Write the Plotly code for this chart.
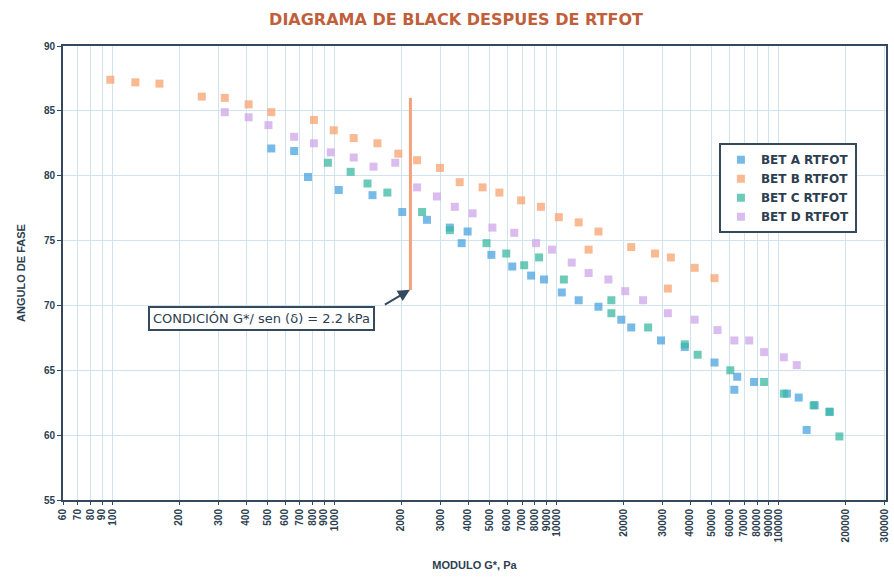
import math
import plotly.graph_objects as go

# Black diagram after RTFOT ageing: complex modulus G* (Pa) vs phase angle (deg)
g_bet_a = [520, 659, 761, 1047, 1485, 2021, 2612, 3311, 3981, 3742, 5093, 6324, 7691, 8790,
           10570, 12590, 15460, 19590, 21720, 29570, 37840, 51500, 65170, 77620, 63240,
           109100, 123300, 145500, 169800, 133900]
d_bet_a = [82.1, 81.9, 79.9, 78.9, 78.5, 77.2, 76.6, 76.0, 75.7, 74.8, 73.9, 73.0, 72.3, 72.0,
           71.0, 70.4, 69.9, 68.9, 68.3, 67.3, 66.8, 65.6, 64.5, 64.1, 63.5,
           63.2, 62.9, 62.3, 61.8, 60.4]

g_bet_b = [98, 127, 163, 253, 321, 411, 520, 809, 994, 1222, 1563, 1941, 2357, 2987, 3667,
           4648, 5534, 6937, 8517, 10250, 12590, 15460, 13960, 21720, 27790, 32740, 41900,
           51500, 31750]
d_bet_b = [87.4, 87.2, 87.1, 86.1, 86.0, 85.5, 84.9, 84.3, 83.5, 82.9, 82.5, 81.7, 81.2, 80.6,
           79.5, 79.1, 78.7, 78.1, 77.6, 76.8, 76.4, 75.7, 74.3, 74.5, 74.0, 73.7, 72.9,
           72.1, 71.3]

g_bet_c = [935, 1184, 1410, 1732, 2483, 3311, 4842, 5943, 7157, 8350, 10800, 17670, 17670,
           25870, 37840, 43250, 60670, 86090, 105700, 143900, 169800, 188000]
d_bet_c = [81.0, 80.3, 79.4, 78.7, 77.2, 75.8, 74.8, 74.0, 73.1, 73.7, 72.0, 70.4, 69.4,
           68.3, 67.0, 66.2, 65.0, 64.1, 63.2, 62.3, 61.8, 59.9]

g_bet_d = [321, 411, 505, 659, 809, 964, 1222, 1500, 1880, 2357, 2896, 3485, 4193, 5147, 6457,
           8093, 9545, 11720, 13960, 17140, 20410, 24560, 31750, 41900, 53110, 63240, 73790,
           86090, 105700, 120800]
d_bet_d = [84.9, 84.5, 83.9, 83.0, 82.5, 81.8, 81.4, 80.7, 81.0, 79.1, 78.4, 77.6, 77.1, 76.0,
           75.6, 74.8, 74.3, 73.3, 72.5, 72.0, 71.1, 70.4, 69.4, 68.9, 68.1, 67.3, 67.3,
           66.4, 66.0, 65.4]

series_names = ["BET A RTFOT", "BET B RTFOT", "BET C RTFOT", "BET D RTFOT"]
series_colors = ["#4aa3df", "#f7a26e", "#3bb8a2", "#cda6ea"]

# G*/sin(delta) = 2.2 kPa criterion line
criterion_g = [2200, 2200]
criterion_d = [71.2, 86.0]

# label box centre and arrow start (G* in Pa, angle in deg)
label_pos = (469, 69.0)
arrow_tail = (1662, 70.0)
arrow_tip = (2190, 71.2)

x_tick_vals = [60, 70, 80, 90, 100, 200, 300, 400, 500, 600, 700, 800, 900, 1000,
               2000, 3000, 4000, 5000, 6000, 7000, 8000, 9000, 10000,
               20000, 30000, 40000, 50000, 60000, 70000, 80000, 90000, 100000,
               200000, 300000]
x_tick_text = [str(v) for v in x_tick_vals]
y_tick_vals = [55, 60, 65, 70, 75, 80, 85, 90]

FRAME = "#34495e"
GRID = "#cfe3f1"
TEXT = "#2c3e50"

fig = go.Figure()

fig.add_trace(go.Scatter(
    x=criterion_g, y=criterion_d, mode="lines", showlegend=False, hoverinfo="skip",
    line=dict(color="#f4a07a", width=3),
))

for name, g, d, color in zip(series_names,
                             [g_bet_a, g_bet_b, g_bet_c, g_bet_d],
                             [d_bet_a, d_bet_b, d_bet_c, d_bet_d],
                             series_colors):
    fig.add_trace(go.Scatter(
        x=g, y=d, mode="markers", name=name,
        marker=dict(color=color, size=8, opacity=0.75, symbol="square", line=dict(width=0)),
    ))

fig.update_layout(
    width=894, height=577,
    margin=dict(l=63, r=4, t=46, b=77),
    paper_bgcolor="white", plot_bgcolor="white",
    font=dict(family="Liberation Sans, Arial, sans-serif", color=TEXT),
    title=dict(
        text="<b>DIAGRAMA DE BLACK DESPUES DE RTFOT</b>",
        x=456 / 894, xref="container", xanchor="center",
        y=1 - 19 / 577, yref="container", yanchor="middle",
        font=dict(family="DejaVu Sans, sans-serif", size=16, color="#c0603a"),
    ),
    xaxis=dict(
        type="log", range=[1.778, 5.484],
        tickmode="array", tickvals=x_tick_vals, ticktext=x_tick_text,
        tickangle=-90, tickfont=dict(size=10, color=TEXT, weight="bold"),
        showgrid=True, gridcolor=GRID, gridwidth=1,
        showline=True, mirror=True, linecolor=FRAME, linewidth=2,
        ticks="outside", ticklen=3, tickcolor=FRAME,
        zeroline=False,
        title=dict(text="<b>MODULO G*, Pa</b>", font=dict(size=11, color=TEXT), standoff=20),
    ),
    yaxis=dict(
        range=[55, 90], tickmode="array", tickvals=y_tick_vals,
        tickfont=dict(size=10, color=TEXT, weight="bold"),
        showgrid=True, gridcolor=GRID, gridwidth=1,
        showline=True, mirror=True, linecolor=FRAME, linewidth=2,
        ticks="outside", ticklen=4, tickcolor=FRAME,
        zeroline=False,
        title=dict(text="<b>ANGULO DE FASE</b>", font=dict(size=11, color=TEXT), standoff=16),
    ),
    legend=dict(
        x=0.797, y=0.786, xanchor="left", yanchor="top",
        bgcolor="white", bordercolor=FRAME, borderwidth=2,
        font=dict(size=12, color=TEXT, family="DejaVu Sans, sans-serif", weight="bold"),
        itemwidth=30, tracegroupgap=0,
    ),
)

# annotations on a log axis take log10 positions
fig.add_annotation(
    x=math.log10(arrow_tip[0]), y=arrow_tip[1], xref="x", yref="y",
    ax=math.log10(arrow_tail[0]), ay=arrow_tail[1], axref="x", ayref="y",
    text="", showarrow=True, arrowhead=2, arrowsize=1.2, arrowwidth=2, arrowcolor=FRAME,
)
fig.add_annotation(
    x=math.log10(label_pos[0]), y=label_pos[1], xref="x", yref="y",
    text="CONDICIÓN G*/ sen (δ) = 2.2 kPa", showarrow=False,
    font=dict(size=13, color=TEXT, family="DejaVu Sans, sans-serif"),
    bgcolor="white", bordercolor=FRAME, borderwidth=2, borderpad=3,
)

fig.write_html("out.html")
